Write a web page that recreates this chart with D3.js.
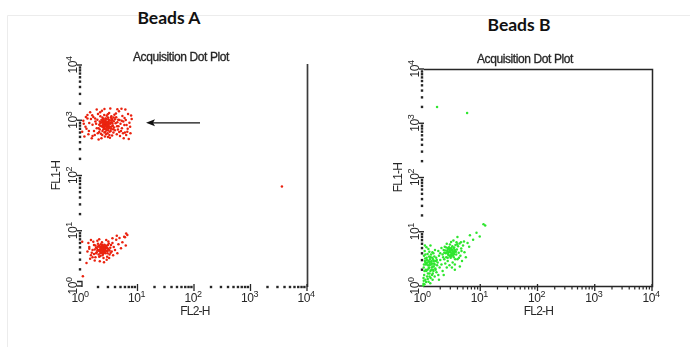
<!DOCTYPE html>
<html>
<head>
<meta charset="utf-8">
<script src="https://cdn.jsdelivr.net/npm/d3@7"></script>
<style>
  html, body { margin: 0; padding: 0; background: #fff; }
  svg { display: block; }
</style>
</head>
<body>
<svg id="chart" width="690" height="347"></svg>
<script>
// ---- data (FL2-H, FL1-H intensities) ----
const decades = [1, 10, 100, 1000, 10000];
const decadeExponents = ["0", "1", "2", "3", "4"];
const panelTitles = ["Beads A", "Beads B"];
const plotTitle = "Acquisition Dot Plot";
const xAxisLabel = "FL2-H";
const yAxisLabel = "FL1-H";

// Beads A: bright population (upper cluster)
const beadsAHigh = [
  [1.1,980],[1.2,760],[1.05,620],[1.3,1240],[1.15,510],[1.4,890],[1.25,700],[1.5,1050],[1.35,560],[1.6,830],
  [1.45,1400],[1.7,640],[1.55,470],[1.8,950],[1.65,1150],[1.9,720],[1.75,540],[2.0,1300],[1.85,860],[2.1,610],
  [1.95,1020],[2.2,790],[2.05,450],[2.3,920],[2.15,680],[2.4,1120],[2.25,570],[2.5,840],[2.35,1480],[2.6,730],
  [2.45,990],[2.7,620],[2.55,880],[2.8,1060],[2.65,510],[2.9,770],[2.75,940],[3.0,660],[2.85,1210],[3.1,820],
  [2.95,580],[3.2,1000],[3.05,710],[3.3,900],[3.15,1350],[3.4,760],[3.25,480],[3.5,1080],[3.35,640],[3.6,870],
  [3.45,1180],[3.7,690],[3.55,530],[3.8,960],[3.65,800],[3.9,1260],[3.75,600],[4.0,1040],[3.85,740],[4.1,880],
  [4.3,560],[4.2,1130],[4.5,680],[4.4,920],[4.7,1450],[4.6,780],[4.9,520],[4.8,1010],[5.1,640],[5.0,860],
  [5.4,1200],[5.3,720],[5.7,470],[5.6,950],[6.0,600],[5.9,1100],[6.4,820],[6.3,540],[6.8,1300],[6.7,700],
  [7.2,900],[7.5,580],[7.9,1050],[7.0,460],[6.1,1560],[5.2,1620],[4.4,1580],[3.3,1640],[2.6,1600],[1.9,1560],
  [2.2,880],[2.4,760],[2.6,950],[2.8,820],[3.0,900],[2.3,1010],[2.5,690],[2.7,1080],[2.9,740],[3.1,970],
  [2.1,830],[3.3,860],[2.45,920],[2.75,700],[3.05,1040],[2.35,780],[2.65,850],[2.95,930],[3.2,720],[2.55,1000],
  [2.15,950],[2.85,660],[3.4,990],[2.05,720],[3.6,780],[3.5,920],[2.4,640],[2.2,1180],[3.0,1120],[3.2,620],
  [2.5,780],[2.6,810],[2.55,700],[2.5,880],[2.45,1060],[2.6,600],[2.7,900],[3.1,880],[3.4,700],[1.3,1080],
  [1.12,860],[1.22,1150],[1.38,640],[1.58,1230],[1.78,1080],[1.98,580],[2.18,1390],[2.38,540],[2.58,1250],[2.78,560],
  [2.98,1280],[3.18,540],[3.38,1120],[3.58,1010],[3.78,1120],[3.98,660],[4.15,1330],[4.35,780],[4.55,1020],[4.75,610],
  [5.25,980],[5.55,580],[5.85,820],[6.2,1010],[6.6,620],[7.4,760],[7.7,1220],[1.6,520],[2.3,470],[3.0,500],
  [2.52,760],[2.62,700],[2.42,820],[2.58,890],[2.48,960],[2.68,780],[2.72,990],[2.82,880],[2.92,820],[3.12,760]
];

// Beads A: dim population (lower cluster) and stray events
const beadsALow = [
  [1.3,4.2],[1.4,5.1],[1.5,3.6],[1.35,6.0],[1.6,4.5],[1.45,3.1],[1.7,5.5],[1.55,4.0],[1.8,3.3],[1.65,6.3],
  [1.9,4.8],[1.75,2.9],[2.0,5.8],[1.85,3.9],[2.1,4.3],[1.95,6.6],[2.2,3.5],[2.05,5.2],[2.3,4.0],[2.15,2.8],
  [2.4,5.6],[2.25,4.6],[2.5,3.2],[2.35,6.2],[2.6,4.4],[2.45,3.8],[2.7,5.0],[2.55,2.7],[2.8,6.8],[2.65,4.1],
  [2.9,3.4],[2.75,5.4],[3.0,4.7],[2.85,3.0],[3.1,5.9],[2.95,4.3],[3.2,3.7],[3.05,6.4],[3.3,4.9],[3.15,3.2],
  [3.4,5.5],[3.5,4.2],[3.6,6.0],[3.7,3.6],[3.8,5.1],[4.0,4.5],[4.2,6.9],[4.4,3.9],[4.6,5.7],[4.8,7.4],
  [5.1,4.8],[5.4,6.2],[5.8,7.8],[6.2,5.4],[6.6,8.4],[4.3,8.1],[3.6,7.3],[2.1,7.0],[1.5,6.8],[1.25,2.6],
  [2.0,4.5],[2.2,4.9],[2.4,4.3],[2.6,5.1],[2.1,5.4],[2.3,4.0],[2.5,4.7],[2.7,4.5],[1.9,4.1],[2.35,5.0],
  [2.55,4.2],[2.15,4.6],[2.45,5.3],[2.65,4.0],[2.05,3.7],[2.25,5.7],[2.75,4.8],[1.85,5.0],[2.85,4.3],[2.4,3.6],
  [2.2,3.9],[2.6,5.6],[2.0,5.2],[2.8,5.2],[2.3,4.6],[1.95,4.4],[2.5,4.0],[2.7,3.9],[2.1,3.4],[2.9,4.9],
  [2.28,4.4],[2.38,4.8],[2.48,4.5],[2.18,4.2],[2.58,4.6],[2.32,5.3],[2.42,4.1],[2.22,5.1],[2.52,5.0],[2.62,4.8],
  [1.75,4.6],[1.8,5.4],[1.7,3.8],[3.0,5.5],[3.2,4.4],[3.35,4.0],[1.6,3.3],[1.4,4.7],[2.95,3.9],[3.1,4.6],
  [6.3,8.9],[6.0,7.6],[1.08,1.5],[1.05,6.3],[3600,63]
];

// Beads B: two overlapping dim populations, a diagonal tail and two bright events
const beadsB = [
  [1.02,1.1],[1.05,1.6],[1.03,2.2],[1.08,2.9],[1.04,3.6],[1.1,1.3],[1.07,4.4],[1.12,2.0],[1.15,2.6],[1.09,3.2],
  [1.18,1.5],[1.2,3.9],[1.14,1.9],[1.22,2.4],[1.25,1.2],[1.17,3.0],[1.28,2.8],[1.24,4.8],[1.3,1.7],[1.27,2.2],
  [1.33,3.4],[1.36,1.4],[1.31,2.6],[1.4,2.0],[1.38,3.8],[1.44,1.6],[1.42,2.9],[1.48,2.3],[1.46,4.2],[1.52,1.9],
  [1.5,3.1],[1.56,2.6],[1.6,1.5],[1.58,3.5],[1.64,2.1],[1.68,2.9],[1.62,4.6],[1.72,1.8],[1.76,2.4],[1.7,3.3],
  [1.8,2.7],[1.85,1.6],[1.9,3.6],[1.95,2.2],[2.0,3.0],[2.1,2.5],[2.2,1.9],[2.25,3.4],[1.15,5.2],[1.35,5.6],
  [1.2,2.0],[1.3,2.4],[1.25,2.9],[1.4,2.5],[1.35,1.9],[1.45,3.3],[1.22,1.7],[1.32,3.1],[1.42,2.2],[1.28,3.5],
  [1.12,2.5],[1.38,2.8],[1.5,2.0],[1.18,2.7],[1.55,2.9],[1.26,2.1],[1.48,1.7],[1.36,3.4],[1.16,3.3],[1.44,2.6],
  [1.06,1.9],[1.1,2.7],[1.02,1.4],[1.04,2.5],[1.6,2.5],[1.66,2.0],[1.74,3.0],[1.54,2.3],[1.3,1.5],[1.1,3.8],
  [1.01,1.02],[1.03,1.25],[1.06,1.08],[1.13,1.18],[1.21,1.35],[1.34,1.12],[1.47,1.3],[1.08,5.6],[1.29,4.3],[1.52,4.0],
  [2.2,3.8],[2.3,4.6],[2.35,3.1],[2.4,5.3],[2.45,2.6],[2.5,4.0],[2.55,3.4],[2.6,6.0],[2.65,4.4],[2.7,2.9],
  [2.75,5.0],[2.8,3.7],[2.85,4.8],[2.9,2.4],[2.95,5.8],[3.0,4.2],[3.05,3.3],[3.1,6.5],[3.15,4.6],[3.2,3.6],
  [3.25,5.4],[3.3,2.7],[3.35,4.0],[3.4,6.9],[3.45,3.4],[3.5,5.1],[3.55,4.3],[3.6,2.5],[3.7,5.7],[3.8,3.8],
  [3.9,4.7],[4.0,3.1],[4.1,5.4],[4.2,4.1],[4.35,6.1],[4.5,3.6],[4.65,4.9],[4.8,2.9],[5.0,5.6],[4.4,2.3],
  [2.8,4.2],[3.0,4.5],[3.2,4.0],[3.1,3.8],[2.9,4.4],[3.3,4.6],[3.05,4.9],[2.75,3.9],[3.4,4.3],[3.15,5.0],
  [2.6,4.1],[3.5,3.9],[2.95,3.6],[3.25,4.4],[3.6,4.6],[2.7,4.7],[3.35,3.7],[2.85,5.2],[3.45,5.0],[3.0,3.5],
  [2.45,4.5],[2.55,5.1],[3.75,4.3],[3.95,5.9],[4.25,3.3],[2.7,3.3],[3.65,3.1],[2.35,4.1],[3.85,6.4],[4.7,4.4],
  [2.0,4.0],[1.85,4.4],[2.1,5.0],[5.3,4.2],[5.6,3.4],[5.2,6.6],[4.6,6.4],[6.0,6.2],[6.6,8.6],[6.4,5.3],
  [7.5,7.1],[9.8,8.2],[8.6,9.6],[11.4,13.8],[12.2,13.0],[4.0,8.0],[3.2,2.2],[2.6,2.2],[1.9,1.3],[2.3,1.6],
  [3.6,2.0],[1.76,2000],[5.9,1550]
];

// ---- drawing ----
const svg = d3.select("#chart");
const FONT = "'Liberation Sans', Arial, sans-serif";
const INK = "#262626";

// soft rendering of the acquisition plots
svg.append("defs").append("filter").attr("id", "soft")
  .attr("x", "-5%").attr("y", "-5%").attr("width", "110%").attr("height", "110%")
  .append("feGaussianBlur").attr("stdDeviation", 0.3);

// light frame around the figure
svg.append("path")
  .attr("d", "M7.5,347 V15.5 H690")
  .attr("fill", "none").attr("stroke", "#ececec").attr("stroke-width", 1);

const panels = [
  { title: panelTitles[0], titleX: 169, titleY: 24,
    x: d3.scaleLog().domain([1, 1e4]).range([81, 307]),
    y: d3.scaleLog().domain([1, 1e4]).range([286, 65]),
    series: [beadsAHigh, beadsALow], color: "#ea2210",
    frame: "open", plotTitleX: 181, plotTitleY: 61 },
  { title: panelTitles[1], titleX: 519, titleY: 31,
    x: d3.scaleLog().domain([1, 1e4]).range([423, 652]),
    y: d3.scaleLog().domain([1, 1e4]).range([286, 69]),
    series: [beadsB], color: "#2ee62e",
    frame: "box", plotTitleX: 525, plotTitleY: 63 }
];

function powerLabel(sel, exp) {
  sel.append("tspan").text("10");
  sel.append("tspan").attr("dy", -5).attr("font-size", 9).text(exp);
}

panels.forEach(p => {
  // panel heading
  svg.append("text").attr("x", p.titleX).attr("y", p.titleY)
    .attr("text-anchor", "middle")
    .attr("font-family", "Lato, 'Open Sans', sans-serif")
    .attr("font-weight", "bold").attr("font-size", 17.5)
    .attr("fill", "#111").text(p.title);

  const g = svg.append("g").attr("filter", "url(#soft)");
  const [x0, x1] = p.x.range();
  const [yb, yt] = p.y.range();

  // plot title
  g.append("text").attr("x", p.plotTitleX).attr("y", p.plotTitleY)
    .attr("text-anchor", "middle").attr("font-family", FONT)
    .attr("font-size", 12).attr("letter-spacing", -0.4)
    .attr("fill", INK).attr("stroke", INK).attr("stroke-width", 0.3)
    .text(plotTitle);

  // frame lines
  if (p.frame === "box") {
    g.append("path")
      .attr("d", `M${x0 + 1},${yt + 0.5} H${x1 + 0.5} V${yb + 0.5} H${x0}`)
      .attr("fill", "none").attr("stroke", INK).attr("stroke-width", 1.5);
  } else {
    g.append("line").attr("x1", x1 + 0.5).attr("x2", x1 + 0.5)
      .attr("y1", yt - 1).attr("y2", yb + 1)
      .attr("stroke", "#3a3a3a").attr("stroke-width", 1.7);
    g.append("path").attr("d", `M${x0 - 4},${yb - 4.5} H${x0 + 1} V${yb + 1}`)
      .attr("fill", "none").attr("stroke", INK).attr("stroke-width", 1.3);
  }

  const minorX = p.x.ticks().filter(v => !decades.includes(v));
  const minorY = p.y.ticks().filter(v => !decades.includes(v));

  // y axis: dotted minor ticks, short major ticks
  const yAxisX = x0 - 1;
  g.selectAll(null).data(minorY).join("rect")
    .attr("x", yAxisX - 1.2).attr("y", d => p.y(d) - 1.2)
    .attr("width", 2.4).attr("height", 2.4).attr("fill", INK);
  g.selectAll(null).data(decades).join("line")
    .attr("x1", yAxisX - 3).attr("x2", yAxisX + 2)
    .attr("y1", d => p.y(d)).attr("y2", d => p.y(d))
    .attr("stroke", INK).attr("stroke-width", 1.4);

  // x axis
  if (p.frame === "box") {
    g.selectAll(null).data(minorX).join("line")
      .attr("x1", d => p.x(d)).attr("x2", d => p.x(d))
      .attr("y1", yb).attr("y2", yb + 3.5)
      .attr("stroke", INK).attr("stroke-width", 1.2);
  } else {
    g.selectAll(null).data(minorX).join("rect")
      .attr("x", d => p.x(d) - 1.2).attr("y", yb - 0.2)
      .attr("width", 2.4).attr("height", 2.4).attr("fill", INK);
  }
  g.selectAll(null).data(decades.slice(1)).join("line")
    .attr("x1", d => p.x(d)).attr("x2", d => p.x(d))
    .attr("y1", yb - 2).attr("y2", yb + 5)
    .attr("stroke", INK).attr("stroke-width", 1.3);

  // tick labels
  decades.forEach((v, i) => {
    g.append("text").attr("x", p.x(v) - 1).attr("y", yb + 16)
      .attr("text-anchor", "middle").attr("font-family", FONT)
      .attr("font-size", 12).attr("letter-spacing", -0.5).attr("fill", INK)
      .call(powerLabel, decadeExponents[i]);
    g.append("text")
      .attr("transform", `translate(${x0 - 4},${p.y(v)}) rotate(-90)`)
      .attr("text-anchor", "middle").attr("font-family", FONT)
      .attr("font-size", 12).attr("letter-spacing", -0.5).attr("fill", INK)
      .call(powerLabel, decadeExponents[i]);
  });

  // axis titles
  g.append("text").attr("x", (x0 + x1) / 2 + 1).attr("y", yb + 29)
    .attr("text-anchor", "middle").attr("font-family", FONT)
    .attr("font-size", 12).attr("letter-spacing", -0.8).attr("fill", INK)
    .text(xAxisLabel);
  g.append("text")
    .attr("transform", `translate(${x0 - 21},${p.y(100)}) rotate(-90)`)
    .attr("text-anchor", "middle").attr("font-family", FONT)
    .attr("font-size", 12).attr("letter-spacing", -0.8).attr("fill", INK)
    .text(yAxisLabel);

  // events
  p.series.forEach(s => {
    g.selectAll(null).data(s).join("circle")
      .attr("cx", d => p.x(d[0])).attr("cy", d => p.y(d[1]))
      .attr("r", 1.25).attr("fill", p.color);
  });
});

// arrow pointing at the bright population of Beads A
const arrowY = panels[0].y(900);
svg.append("line")
  .attr("x1", 200).attr("x2", 152)
  .attr("y1", arrowY).attr("y2", arrowY)
  .attr("stroke", "#111").attr("stroke-width", 1.3);
svg.append("path")
  .attr("d", `M146,${arrowY} L155,${arrowY - 3.5} L153,${arrowY} L155,${arrowY + 3.5} Z`)
  .attr("fill", "#111");
</script>
</body>
</html>
